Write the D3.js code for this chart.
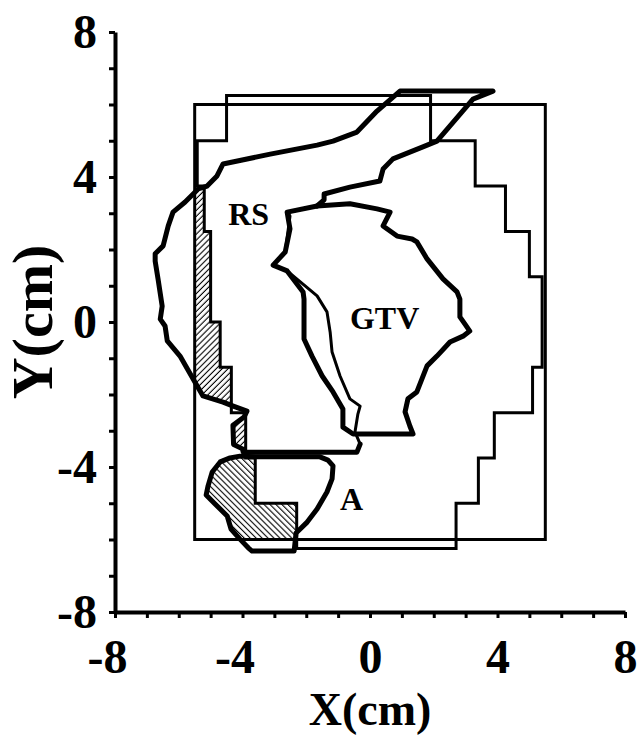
<!DOCTYPE html>
<html>
<head>
<meta charset="utf-8">
<script src="https://cdn.jsdelivr.net/npm/d3@7/dist/d3.min.js"></script>
<style>
  body { margin: 0; background: #fff; }
  text { font-family: "Liberation Serif", "Times New Roman", serif; font-weight: bold; fill: #000; }
</style>
</head>
<body>
<svg id="chart" width="642" height="736"></svg>
<script>
// axis ticks (cm)
const allTicks = [-8,-7,-6,-5,-4,-3,-2,-1,0,1,2,3,4,5,6,7,8];
const labelTicks = [-8,-4,0,4,8];

// treatment field (cm)
const field = [[-5.5,-6],[5.5,-6],[5.5,6],[-5.5,6]];

// MLC stepped outline (cm)
const mlc = [[-4.5,6.25],[1.9,6.25],[1.9,5.0],[3.3,5.0],[3.3,3.75],[4.25,3.75],[4.25,2.5],[5.0,2.5],
  [5.0,1.25],[5.4,1.25],[5.4,-1.25],[5.1,-1.25],[5.1,-2.5],[3.9,-2.5],[3.9,-3.75],[3.4,-3.75],
  [3.4,-5.0],[2.7,-5.0],[2.7,-6.25],[-2.3,-6.25],[-2.3,-5.0],[-3.6,-5.0],[-3.6,-3.75],[-3.9,-3.75],
  [-3.9,-2.5],[-4.35,-2.5],[-4.35,-1.25],[-4.7,-1.25],[-4.7,0],[-5.0,0],[-5.0,2.5],[-5.2,2.5],
  [-5.2,3.75],[-5.42,3.75],[-5.42,5.0],[-4.5,5.0]];

// GTV contour (cm)
const gtv = [[-2.60,3.03],[-1.66,3.20],[-0.63,3.26],[0.22,3.12],[0.63,3.03],[0.41,2.65],[0.85,2.37],
  [1.32,2.29],[1.47,2.21],[1.79,1.74],[2.29,1.19],[2.73,0.83],[2.82,0.63],[2.82,0.14],[2.98,-0.06],
  [3.13,-0.25],[2.92,-0.39],[2.51,-0.55],[2.10,-0.94],[1.79,-1.21],[1.63,-1.57],[1.47,-1.93],
  [1.19,-2.12],[1.10,-2.48],[1.25,-2.87],[1.35,-3.09],[-0.53,-3.09],[-0.85,-2.90],[-0.85,-2.40],
  [-1.16,-1.93],[-1.50,-1.49],[-1.82,-0.94],[-2.07,-0.47],[-2.07,0.63],[-2.10,0.83],[-2.60,1.41],
  [-3.04,1.57],[-2.66,1.93],[-2.51,2.57]];

// RS contour (cm): outer part drawn heavy, inner part (along the GTV) lighter
const rsOuter = [[-1.66,3.20],[-1.44,3.37],[-1.44,3.53],[-0.63,3.72],[0.31,3.89],[0.41,4.22],[0.72,4.50],
  [1.66,4.83],[2.10,4.99],[3.23,6.15],[3.86,6.37],[0.94,6.37],[0.22,5.82],[-0.41,5.24],[-1.16,4.99],
  [-1.66,4.88],[-3.13,4.63],[-4.61,4.36],[-4.80,4.03],[-5.11,3.75],[-5.39,3.67],[-5.80,3.31],
  [-6.18,3.03],[-6.33,2.65],[-6.49,2.10],[-6.74,1.88],[-6.74,1.68],[-6.65,1.19],[-6.52,0.44],
  [-6.58,0.08],[-6.43,-0.11],[-6.36,-0.52],[-5.96,-0.94],[-5.49,-1.66],[-5.24,-2.04],[-4.61,-2.21],
  [-4.29,-2.32],[-3.86,-2.46],[-3.95,-2.62],[-4.30,-2.85],[-4.28,-3.38],[-4.00,-3.50],[-3.98,-3.59],
  [-0.41,-3.59],[-0.31,-3.37]];
const rsInner = [[-0.31,-3.37],[-0.47,-3.03],[-0.38,-2.54],[-0.31,-2.32],[-0.63,-2.12],[-0.94,-1.49],
  [-1.19,-0.83],[-1.25,-0.28],[-1.35,0.28],[-1.66,0.72],[-2.60,1.41],[-3.04,1.57],[-2.66,1.93],
  [-2.51,2.92],[-2.57,3.03],[-1.66,3.20]];

// A contour (cm)
const regionA = [[-4.08,-3.70],[-4.39,-3.75],[-4.70,-3.86],[-4.95,-4.14],[-5.08,-4.52],[-5.14,-4.77],
  [-4.86,-5.02],[-4.48,-5.35],[-4.36,-5.71],[-4.08,-5.99],[-3.82,-6.23],[-3.70,-6.32],[-2.38,-6.32],
  [-2.32,-5.82],[-1.97,-5.52],[-1.66,-5.16],[-1.35,-4.69],[-1.19,-4.33],[-1.16,-3.97],[-1.32,-3.81],
  [-1.57,-3.72],[-3.54,-3.72]];

// hatched areas (cm)
const hatchStrip = [[-5.5,3.67],[-5.5,-1.64],[-5.24,-2.04],[-4.61,-2.21],[-4.35,-2.28],[-4.35,-1.25],
  [-4.7,-1.25],[-4.7,0],[-5.0,0],[-5.0,2.5],[-5.2,2.5],[-5.2,3.75],[-5.35,3.75],[-5.35,3.68]];
const hatchNotch = [[-3.9,-2.55],[-3.95,-2.62],[-4.30,-2.85],[-4.28,-3.38],[-4.0,-3.50],[-3.9,-3.52]];
const hatchA = [[-3.6,-3.72],[-4.08,-3.70],[-4.39,-3.75],[-4.70,-3.86],[-4.95,-4.14],[-5.08,-4.52],
  [-5.14,-4.77],[-4.86,-5.02],[-4.48,-5.35],[-4.36,-5.71],[-4.1,-6.0],[-2.3,-6.0],[-2.3,-5.0],[-3.6,-5.0]];

// region labels (cm)
const labels = [
  {text: "RS", x: -4.45, y: 2.68},
  {text: "GTV", x: -0.63, y: -0.19},
  {text: "A", x: -0.94, y: -5.19}
];

const svg = d3.select("#chart");
const x = d3.scaleLinear().domain([-8, 8]).range([115, 625]);
const y = d3.scaleLinear().domain([-8, 8]).range([612, 32]);
const closed = d3.line().x(d => x(d[0])).y(d => y(d[1])).curve(d3.curveLinearClosed);
const open = d3.line().x(d => x(d[0])).y(d => y(d[1]));

const defs = svg.append("defs");
function hatch(id, angle) {
  defs.append("pattern").attr("id", id).attr("patternUnits", "userSpaceOnUse")
    .attr("width", 4.2).attr("height", 4.2).attr("patternTransform", "rotate(" + angle + ")")
    .append("line").attr("x1", 0).attr("y1", 2).attr("x2", 4.2).attr("y2", 2)
    .attr("stroke", "#000").attr("stroke-width", 1.1);
}
hatch("hatchUp", -45);
hatch("hatchDown", 45);

// hatched fills
svg.append("path").attr("d", closed(hatchStrip)).attr("fill", "url(#hatchUp)");
svg.append("path").attr("d", closed(hatchNotch)).attr("fill", "url(#hatchUp)");
svg.append("path").attr("d", closed(hatchA)).attr("fill", "url(#hatchDown)");

// thin outlines
[field, mlc].forEach(p => {
  svg.append("path").attr("d", closed(p)).attr("fill", "none")
    .attr("stroke", "#000").attr("stroke-width", 3).attr("stroke-linejoin", "miter");
});
svg.append("path").attr("d", open(rsInner)).attr("fill", "none")
  .attr("stroke", "#000").attr("stroke-width", 3).attr("stroke-linejoin", "round");

// heavy contours
svg.append("path").attr("d", open(rsOuter)).attr("fill", "none")
  .attr("stroke", "#000").attr("stroke-width", 5).attr("stroke-linejoin", "round").attr("stroke-linecap", "round");
[gtv, regionA].forEach(p => {
  svg.append("path").attr("d", closed(p)).attr("fill", "none")
    .attr("stroke", "#000").attr("stroke-width", 5).attr("stroke-linejoin", "round");
});

svg.selectAll(".lbl").data(labels).enter().append("text")
  .attr("x", d => x(d.x)).attr("y", d => y(d.y))
  .attr("font-size", 32).text(d => d.text);

// axes
const fmt = d => labelTicks.includes(d) ? String(d) : "";
const xAxis = svg.append("g").attr("transform", "translate(0," + y(-8) + ")")
  .call(d3.axisBottom(x).tickValues(allTicks).tickFormat(fmt).tickSize(6).tickSizeOuter(0).tickPadding(21));
const yAxis = svg.append("g").attr("transform", "translate(" + x(-8) + ",0)")
  .call(d3.axisLeft(y).tickValues(allTicks).tickFormat(fmt).tickSize(6).tickSizeOuter(0).tickPadding(12));

[xAxis, yAxis].forEach(g => {
  g.select(".domain").attr("stroke-width", 4);
  g.selectAll(".tick line").attr("stroke-width", 3);
  g.selectAll("text").attr("font-size", 48).attr("font-family", null).attr("fill", "#000");
});
// centre the digit on the tick, minus sign hanging to the left
xAxis.selectAll(".tick text").attr("text-anchor", "end").attr("x", 12);

svg.append("text").attr("x", 370).attr("y", 725).attr("text-anchor", "middle")
  .attr("font-size", 46).text("X(cm)");
svg.append("text").attr("transform", "translate(52," + y(0) + ") rotate(-90)")
  .attr("text-anchor", "middle").attr("font-size", 58).text("Y(cm)");
</script>
</body>
</html>
